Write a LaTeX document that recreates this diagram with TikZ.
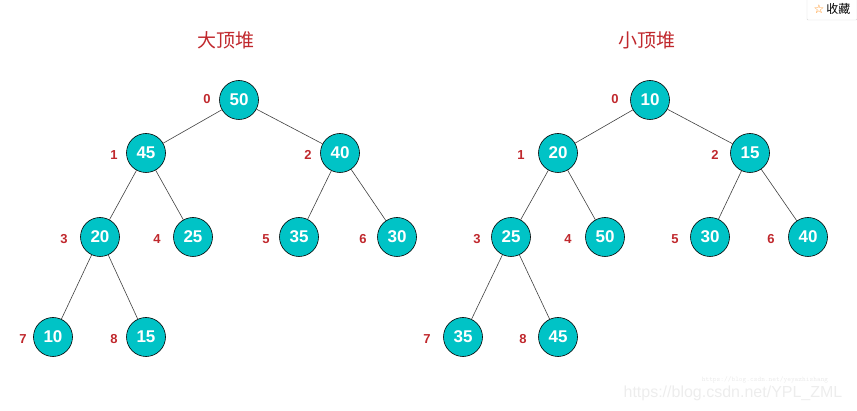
\documentclass[tikz,border=0pt]{standalone}
\usepackage{fontspec}
\setmainfont{Liberation Sans}
\newfontfamily\cjk{Noto Sans CJK SC}
\newfontfamily\djv{DejaVu Sans}
\definecolor{hred}{HTML}{C0282D}
\definecolor{hcyan}{HTML}{00C3C6}
\begin{document}
\begin{tikzpicture}[x=1pt,y=-1pt,
  hn/.style={circle,draw=black,line width=0.6pt,fill=hcyan,minimum size=39pt,inner sep=0pt,text=white,font=\bfseries\fontsize{17}{17}\selectfont},
  idx/.style={text=hred,font=\bfseries\fontsize{13}{13}\selectfont},
  ttl/.style={text=hred,font=\cjk\fontsize{19}{19}\selectfont},
  edge/.style={draw=black!75,line width=0.6pt}]
\useasboundingbox (0,0) rectangle (857,411);
\node[ttl] (t1) at (226,40) {大顶堆};
\node[ttl] (t2) at (647,40) {小顶堆};
\foreach \n/\x/\y/\v in {a0/239/100/50,a1/146/153/45,a2/340/153/40,a3/100/237/20,a4/193/237/25,a5/299/237/35,a6/397/237/30,a7/53/337/10,a8/146/337/15,
 b0/650/100/10,b1/558/153/20,b2/750/153/15,b3/511/237/25,b4/605/237/50,b5/710/237/30,b6/808/237/40,b7/463/337/35,b8/558/337/45}{
  \node[hn] (\n) at (\x,\y) {\v};
}
\foreach \n/\lx/\y/\k in {a0/207/99/0,a1/114/155/1,a2/308/155/2,a3/64/239/3,a4/157/239/4,a5/266/239/5,a6/363/239/6,a7/23/339/7,a8/114/339/8,
 b0/615/99/0,b1/521/155/1,b2/715/155/2,b3/477/239/3,b4/568/239/4,b5/675/239/5,b6/771/239/6,b7/427/339/7,b8/523/339/8}{
  \node[idx] (l\n) at (\lx,\y) {\k};
}
\foreach \p/\c in {0/1,0/2,1/3,1/4,2/5,2/6,3/7,3/8}{
  \draw[edge] (a\p) -- (a\c);
  \draw[edge] (b\p) -- (b\c);
}
\node[draw=black!15,rounded corners=1pt,inner sep=3pt,font=\fontsize{12}{12}\selectfont,minimum height=22pt,minimum width=50pt] (btn) at (832,9) {{\djv\color{orange}☆}\,{\cjk 收藏}};
\node[text=black!7,font=\fontsize{16}{16}\selectfont] (wm) at (733,393) {https://blog.csdn.net/YPL\_ZML};
\node[text=black!8,font=\ttfamily\fontsize{7}{7}\selectfont] (wm2) at (765,380) {https://blog.csdn.net/yeyazhishang};
\end{tikzpicture}
\end{document}
